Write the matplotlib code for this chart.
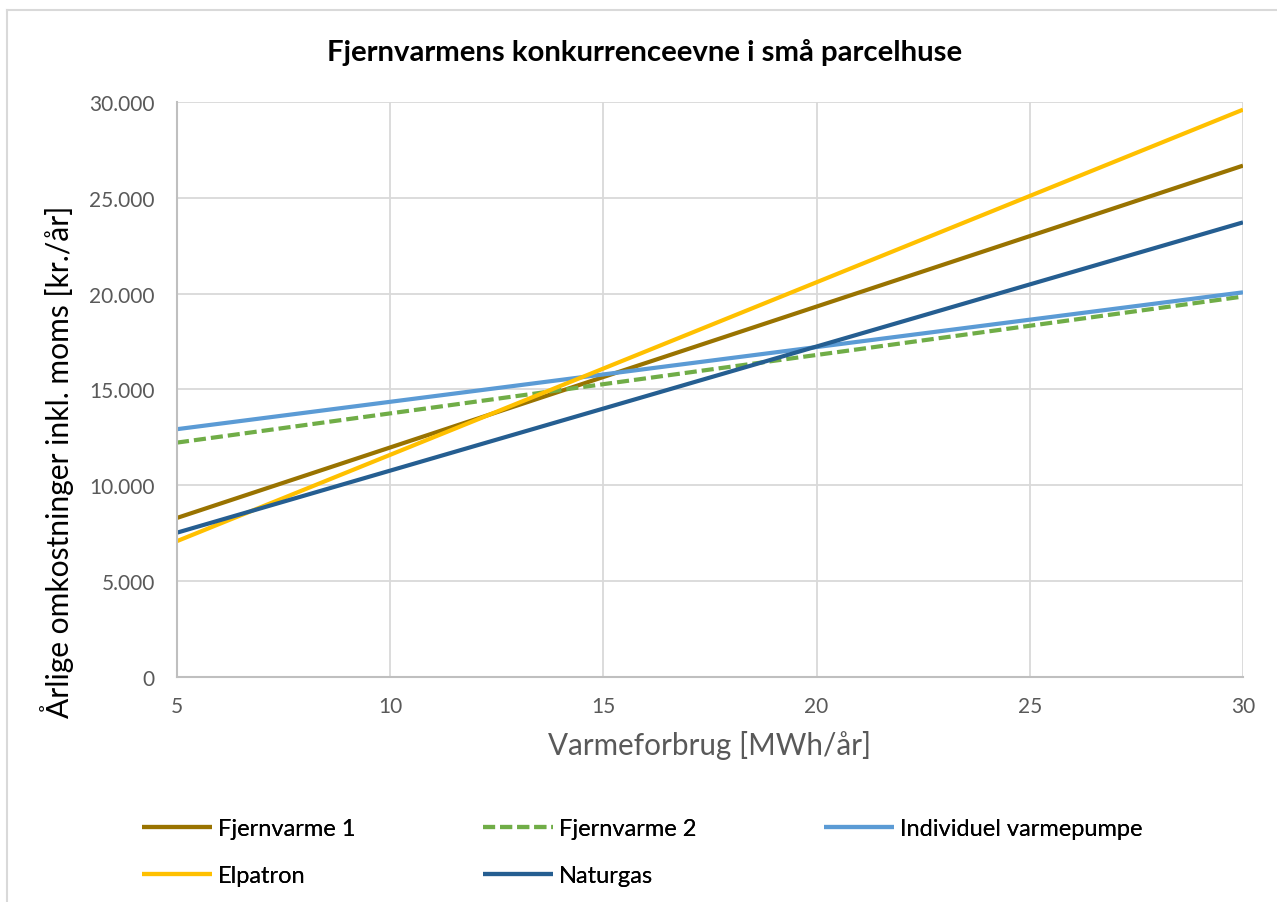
import matplotlib
matplotlib.use("Agg")
import matplotlib.pyplot as plt
from matplotlib.ticker import FuncFormatter
from matplotlib.lines import Line2D

plt.rcParams['font.family'] = ['Lato', 'DejaVu Sans']

# Data
x_mwh = [5, 30]
fjernvarme1 = [8300, 26680]
fjernvarme2 = [12230, 19850]
varmepumpe = [12930, 20070]
elpatron = [7090, 29600]
naturgas = [7530, 23720]

series_names = ["Fjernvarme 1", "Fjernvarme 2", "Individuel varmepumpe", "Elpatron", "Naturgas"]
x_ticks = [5, 10, 15, 20, 25, 30]
y_ticks = [0, 5000, 10000, 15000, 20000, 25000, 30000]

W, H = 1277, 903
fig = plt.figure(figsize=(W / 100, H / 100), dpi=100)

# outer chart frame (light gray)
fig.add_artist(Line2D([7 / W, 7 / W], [0, 1 - 11 / H], color="#D9D9D9", lw=1.5, transform=fig.transFigure))
fig.add_artist(Line2D([7 / W, 1], [1 - 11 / H, 1 - 11 / H], color="#D9D9D9", lw=1.5, transform=fig.transFigure))

ax = fig.add_axes([177 / W, 1 - 678 / H, (1243 - 177) / W, (678 - 103) / H])

l1, = ax.plot(x_mwh, fjernvarme1, color="#997300", lw=3.0, solid_capstyle="butt", label=series_names[0])
l2, = ax.plot(x_mwh, fjernvarme2, color="#70AD47", lw=3.0, ls=(0, (2.9, 1.2)), dash_capstyle="butt", label=series_names[1])
l3, = ax.plot(x_mwh, varmepumpe, color="#5B9BD5", lw=3.0, solid_capstyle="butt", label=series_names[2])
l4, = ax.plot(x_mwh, elpatron, color="#FFC000", lw=3.0, solid_capstyle="butt", label=series_names[3])
l5, = ax.plot(x_mwh, naturgas, color="#255E91", lw=3.0, solid_capstyle="butt", label=series_names[4])

ax.set_xlim(5, 30)
ax.set_ylim(0, 30000)
ax.set_xticks(x_ticks)
ax.set_yticks(y_ticks)
ax.yaxis.set_major_formatter(FuncFormatter(lambda v, p: f"{int(v):,}".replace(",", ".")))
ax.grid(True, color="#D9D9D9", lw=1.3)
ax.set_axisbelow(True)
for s in ["top", "right"]:
    ax.spines[s].set_visible(False)
for s in ["left", "bottom"]:
    ax.spines[s].set_color("#BFBFBF")
    ax.spines[s].set_linewidth(1.5)
ax.tick_params(axis="both", length=0, labelsize=15, labelcolor="#595959")
ax.tick_params(axis="y", pad=16)
ax.tick_params(axis="x", pad=14)

ax.set_xlabel("Varmeforbrug [MWh/år]", fontsize=21.3, color="#595959", labelpad=10)
fig.text(57 / W, 1 - 462 / H, "Årlige omkostninger inkl. moms [kr./år]", rotation=90,
         fontsize=21.6, color="black", ha="center", va="center")

fig.text(645 / W, 1 - 52 / H, "Fjernvarmens konkurrenceevne i små parcelhuse",
         fontsize=21.2, fontweight="bold", color="black", ha="center", va="center")

# legend in three columns
cols = [([l1, l4], 142), ([l2, l5], 483), ([l3], 824)]
for handles, xpx in cols:
    leg = fig.legend(handles=handles, labels=[h.get_label() for h in handles],
                     loc="upper left", bbox_to_anchor=(xpx / W, 1 - 819 / H),
                     frameon=False, fontsize=17, handlelength=2.95, handletextpad=0.28,
                     labelspacing=1.1, borderpad=0, borderaxespad=0)
    fig.add_artist(leg)

fig.savefig("out.png", dpi=100, facecolor="white")
